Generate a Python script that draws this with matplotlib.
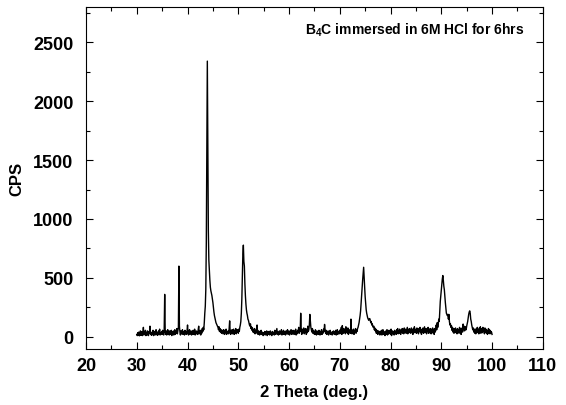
import numpy as np
import matplotlib
matplotlib.use("Agg")
import matplotlib.pyplot as plt
from matplotlib.ticker import MultipleLocator

plt.rcParams['font.family'] = ['Liberation Sans', 'DejaVu Sans']
plt.rcParams['mathtext.fontset'] = 'custom'
plt.rcParams['mathtext.rm'] = 'Liberation Sans'
plt.rcParams['mathtext.bf'] = 'Liberation Sans:bold'

# --- data: 2 theta from 30 to 100 deg, step 0.1, one row per degree ---
two_theta_start = 30.0
two_theta_step = 0.1
cps_rows = [
    [20, 10, 35, 15, 40, 8, 30, 50, 12, 25],            # 30
    [45, 10, 30, 80, 15, 40, 20, 55, 10, 35],           # 31
    [15, 50, 25, 10, 45, 30, 90, 20, 40, 12],           # 32
    [35, 20, 55, 10, 30, 45, 15, 25, 60, 18],           # 33
    [40, 12, 30, 50, 20, 65, 15, 35, 25, 45],           # 34
    [20, 55, 30, 15, 60, 360, 40, 20, 50, 15],          # 35
    [35, 60, 25, 45, 15, 50, 30, 20, 55, 10],           # 36
    [40, 25, 50, 15, 35, 60, 20, 45, 30, 70],           # 37
    [25, 55, 80, 600, 90, 40, 15, 50, 25, 35],          # 38
    [60, 20, 45, 30, 15, 55, 25, 40, 20, 50],           # 39
    [100, 30, 15, 45, 60, 20, 35, 50, 15, 40],          # 40
    [25, 55, 20, 40, 65, 15, 30, 50, 25, 45],           # 41
    [20, 60, 90, 25, 40, 55, 15, 50, 30, 70],           # 42
    [45, 80, 60, 120, 200, 260, 400, 800, 1600, 2340],  # 43
    [1600, 900, 650, 560, 480, 420, 390, 370, 350, 320],  # 44
    [290, 250, 210, 180, 160, 140, 120, 110, 100, 90],  # 45
    [80, 60, 85, 45, 70, 40, 60, 30, 55, 40],           # 46
    [25, 60, 45, 20, 55, 35, 65, 20, 45, 30],           # 47
    [50, 25, 70, 135, 40, 20, 55, 30, 60, 25],          # 48
    [45, 65, 20, 50, 35, 70, 25, 55, 40, 60],           # 49
    [30, 65, 45, 80, 100, 130, 200, 320, 500, 700],     # 50
    [778, 640, 600, 450, 350, 280, 230, 200, 180, 150],  # 51
    [140, 120, 100, 90, 110, 70, 85, 55, 75, 40],       # 52
    [60, 35, 70, 25, 55, 30, 65, 100, 40, 20],          # 53
    [50, 30, 15, 45, 25, 55, 20, 40, 30, 10],           # 54
    [35, 20, 45, 15, 40, 25, 50, 10, 30, 45],           # 55
    [20, 40, 15, 50, 25, 35, 10, 45, 30, 20],           # 56
    [40, 15, 55, 30, 20, 45, 70, 25, 40, 15],           # 57
    [35, 50, 20, 45, 30, 60, 15, 40, 25, 55],           # 58
    [20, 45, 30, 15, 50, 25, 40, 60, 20, 35],           # 59
    [50, 15, 40, 30, 60, 20, 45, 25, 55, 35],           # 60
    [20, 50, 30, 65, 15, 45, 25, 55, 35, 80],           # 61
    [30, 60, 45, 200, 50, 20, 65, 35, 45, 75],          # 62
    [25, 55, 40, 70, 20, 50, 35, 90, 45, 60],           # 63
    [100, 190, 130, 80, 60, 40, 70, 30, 55, 25],        # 64
    [45, 20, 60, 35, 15, 50, 25, 40, 20, 55],           # 65
    [30, 15, 45, 25, 60, 20, 40, 30, 65, 45],           # 66
    [105, 60, 30, 55, 20, 45, 25, 50, 15, 40],          # 67
    [30, 55, 20, 40, 25, 15, 45, 30, 50, 20],           # 68
    [40, 25, 55, 15, 35, 60, 20, 45, 30, 50],           # 69
    [25, 60, 35, 80, 20, 95, 45, 30, 70, 40],           # 70
    [55, 25, 85, 40, 60, 30, 75, 20, 50, 35],           # 71
    [60, 30, 150, 45, 25, 55, 35, 65, 20, 50],          # 72
    [40, 70, 30, 55, 45, 70, 80, 100, 120, 150],        # 73
    [180, 220, 280, 350, 420, 480, 540, 590, 500, 420],  # 74
    [340, 280, 230, 200, 180, 160, 150, 140, 150, 155],  # 75
    [140, 120, 130, 100, 110, 90, 80, 90, 60, 75],      # 76
    [50, 65, 30, 55, 40, 20, 50, 30, 45, 15],           # 77
    [40, 25, 55, 15, 35, 60, 20, 45, 30, 10],           # 78
    [35, 50, 20, 60, 15, 40, 25, 55, 30, 45],           # 79
    [20, 65, 10, 35, 50, 25, 40, 15, 55, 30],           # 80
    [45, 20, 60, 35, 70, 25, 50, 30, 65, 40],           # 81
    [20, 55, 40, 70, 30, 60, 25, 75, 45, 35],           # 82
    [65, 30, 55, 80, 25, 60, 40, 70, 35, 55],           # 83
    [30, 75, 45, 60, 20, 70, 40, 85, 35, 50],           # 84
    [65, 30, 75, 40, 55, 25, 70, 45, 80, 35],           # 85
    [55, 20, 65, 40, 75, 30, 60, 85, 35, 50],           # 86
    [70, 25, 60, 45, 80, 30, 55, 35, 70, 40],           # 87
    [25, 65, 45, 75, 30, 60, 20, 70, 40, 55],           # 88
    [100, 60, 120, 80, 110, 150, 130, 220, 300, 350],   # 89
    [400, 450, 490, 520, 480, 430, 400, 340, 290, 240],  # 90
    [200, 190, 180, 190, 150, 190, 130, 100, 110, 80],  # 91
    [95, 55, 80, 40, 70, 30, 65, 45, 75, 35],           # 92
    [60, 25, 70, 40, 55, 30, 80, 45, 65, 20],           # 93
    [55, 75, 40, 108, 60, 90, 50, 70, 85, 60],          # 94
    [90, 110, 130, 160, 190, 210, 220, 200, 150, 130],  # 95
    [100, 80, 60, 75, 40, 65, 30, 55, 25, 70],          # 96
    [45, 80, 35, 60, 25, 75, 40, 85, 30, 55],           # 97
    [70, 35, 80, 45, 60, 25, 75, 40, 65, 30],           # 98
    [55, 20, 45, 70, 30, 60, 25, 50, 35, 40],           # 99
    [20],                                               # 100
]

cps = np.array([v for row in cps_rows for v in row], dtype=float)
two_theta = two_theta_start + two_theta_step * np.arange(len(cps))

fig = plt.figure(figsize=(5.66, 4.06), dpi=100)
ax = fig.add_axes([0.152, 0.139, 0.807, 0.8415])

ax.plot(two_theta, cps, color='black', linewidth=1.0)

ax.set_xlim(20, 110)
ax.set_ylim(-100, 2800)
ax.xaxis.set_major_locator(MultipleLocator(10))
ax.xaxis.set_minor_locator(MultipleLocator(5))
ax.yaxis.set_major_locator(MultipleLocator(500))
ax.yaxis.set_minor_locator(MultipleLocator(250))
ax.tick_params(which='both', direction='in', top=True, right=True,
               width=0.8, labelsize=13)
ax.tick_params(which='major', length=5)
ax.tick_params(which='minor', length=3)
ax.tick_params(axis='y', pad=9)
ax.tick_params(axis='x', pad=6)
for lab in ax.get_xticklabels() + ax.get_yticklabels():
    lab.set_fontweight('bold')
for sp in ax.spines.values():
    sp.set_linewidth(0.8)

ax.set_xlabel('2 Theta (deg.)', fontsize=12, fontweight='bold', labelpad=7)
ax.set_ylabel('CPS', fontsize=12, fontweight='bold', labelpad=6)

ax.text(0.96, 0.935, r'B$_{\mathbf{4}}$C immersed in 6M HCl for 6hrs',
        transform=ax.transAxes, ha='right', va='center',
        fontsize=10, fontweight='bold')

fig.savefig('out.png', dpi=100)
